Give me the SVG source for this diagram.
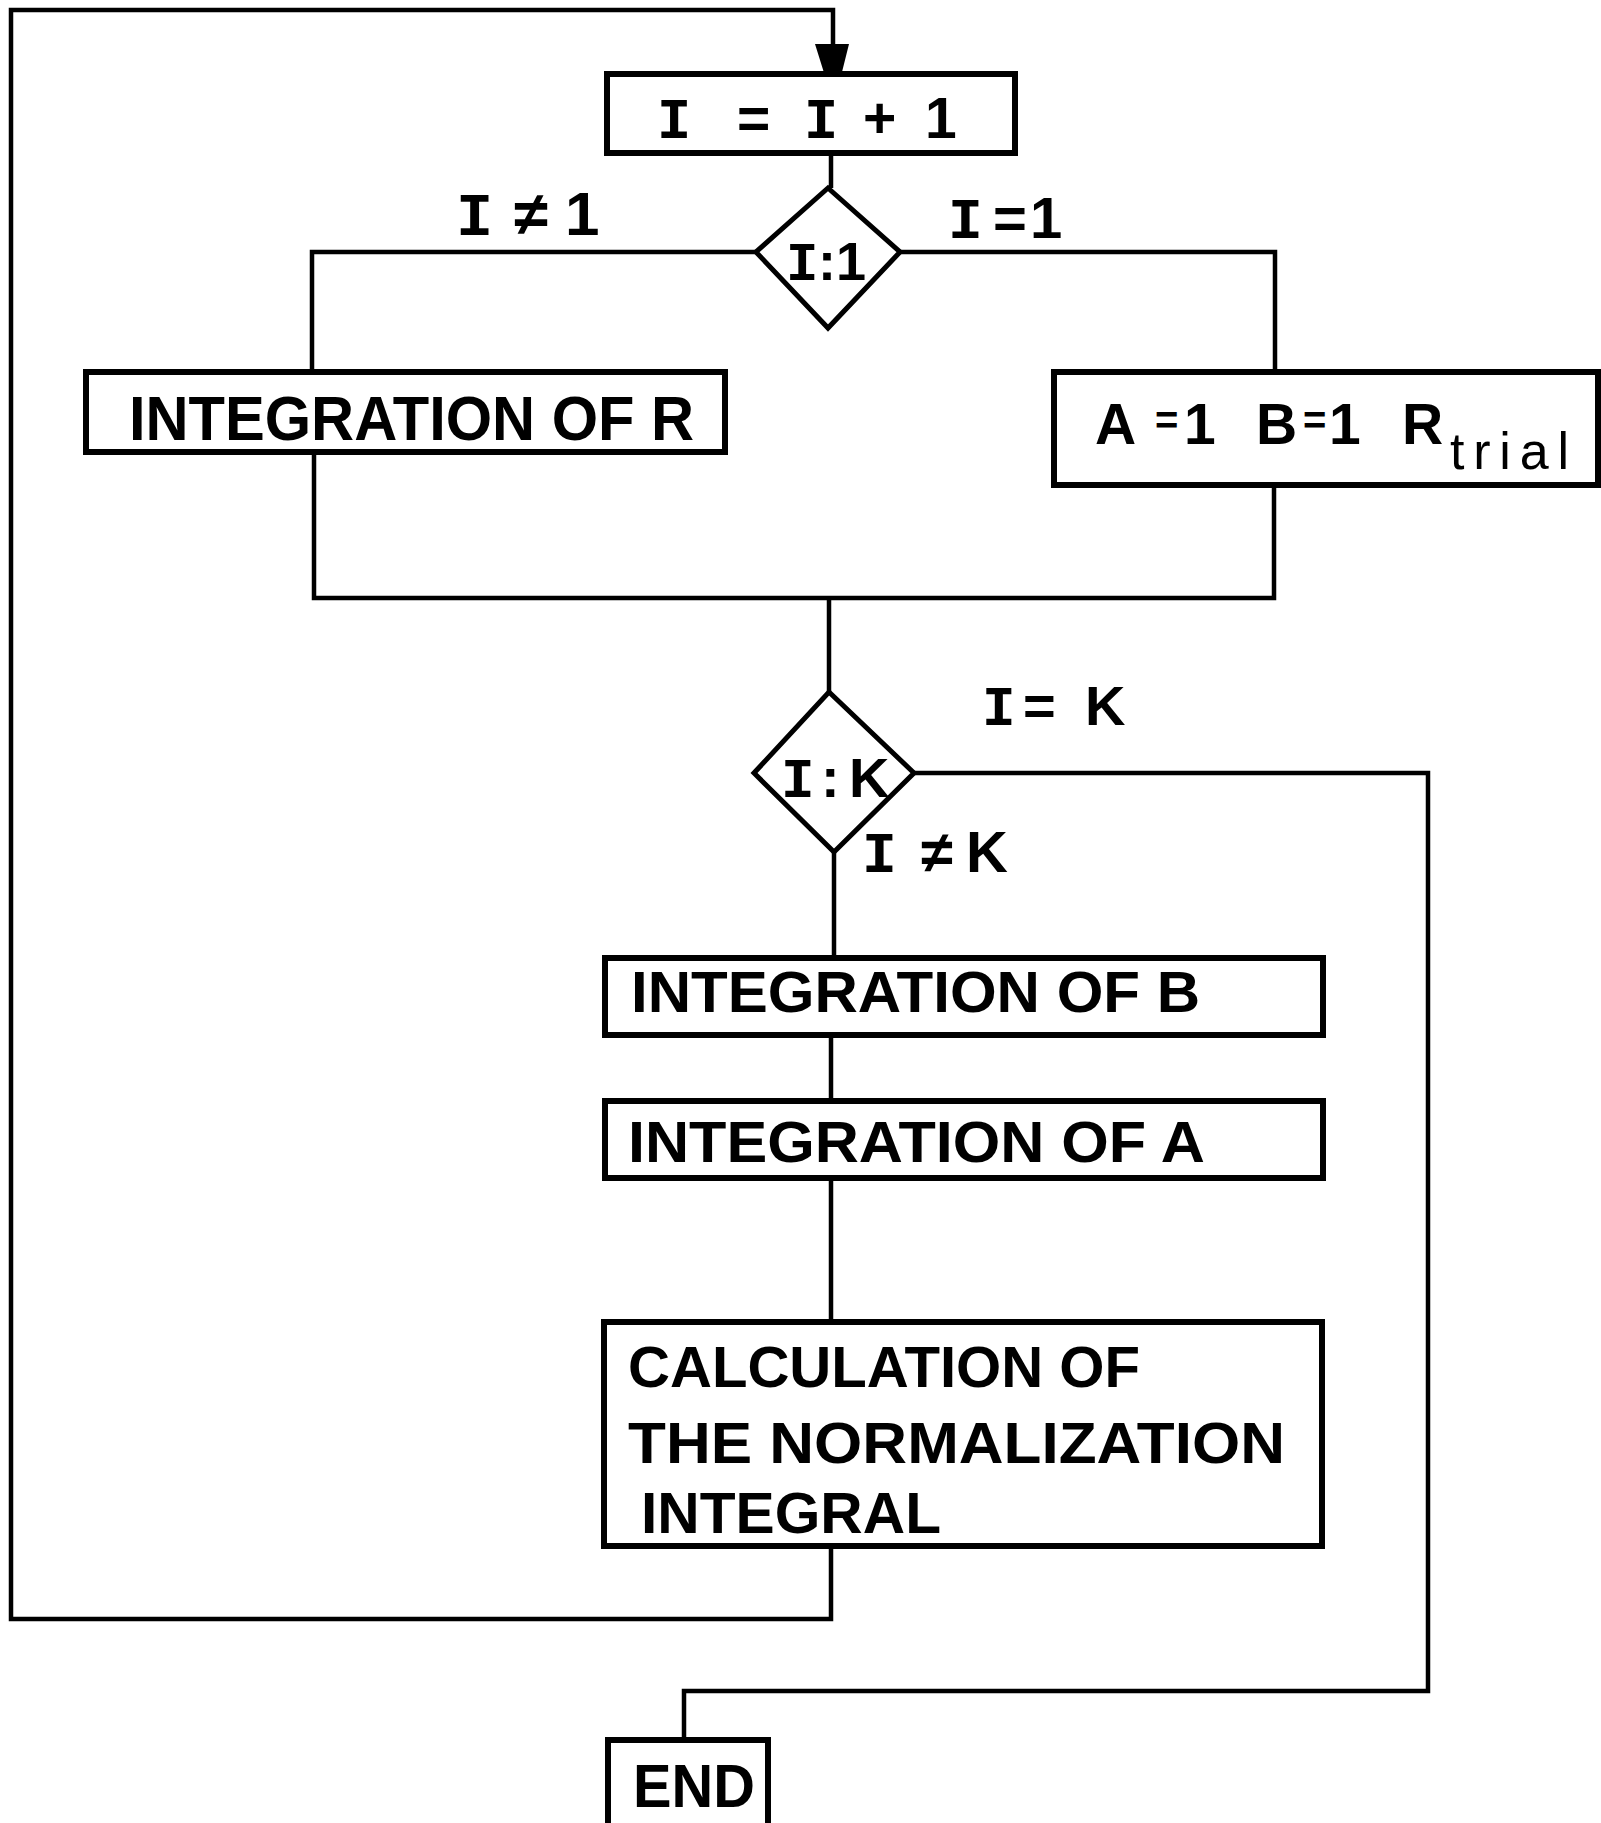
<svg xmlns="http://www.w3.org/2000/svg" width="1601" height="1823" viewBox="0 0 1601 1823">
<style>
.box{fill:none;stroke:#000;stroke-width:6}
.dia{fill:none;stroke:#000;stroke-width:5;stroke-linejoin:miter}
.ln{fill:none;stroke:#000;stroke-width:4.5}
.t{font-family:"Liberation Sans",Arial,sans-serif;font-weight:bold;fill:#000}
.i{font-family:"Liberation Mono","Courier New",monospace;font-weight:bold}
.s{font-family:"Liberation Sans",Arial,sans-serif;font-weight:normal;fill:#000}
</style>
<rect width="1601" height="1823" fill="#fff"/>
<g id="connectors">
<path class="ln" d="M831,1547 V1619 H11 V10 H833 V46"/>
<polygon points="815,44 849,44 841,76 825,76" fill="#000"/>
<path class="ln" d="M831,154 V188"/>
<path class="ln" d="M756,252 H312 V372"/>
<path class="ln" d="M900,252 H1275 V371"/>
<path class="ln" d="M314,453 V598 H1274 V484"/>
<path class="ln" d="M829,598 V692"/>
<path class="ln" d="M914,773 H1428 V1691 H684 V1740"/>
<path class="ln" d="M834,852 V958"/>
<path class="ln" d="M831,1036 V1101"/>
<path class="ln" d="M831,1178 V1322"/>
</g>
<g id="labels">
<text class="t" font-size="62" y="235"><tspan class="i" x="456">I</tspan><tspan x="514">≠</tspan><tspan x="565">1</tspan></text>
<text class="t" font-size="58" y="238"><tspan class="i" x="948">I</tspan><tspan x="993">=</tspan><tspan x="1030">1</tspan></text>
<text class="t" font-size="56" y="725"><tspan class="i" x="982">I</tspan><tspan x="1023">=</tspan><tspan x="1085">K</tspan></text>
<text class="t" font-size="58" y="872"><tspan class="i" x="862">I</tspan><tspan x="921">≠</tspan><tspan x="966">K</tspan></text>
</g>
<g id="n-incr">
<rect class="box" x="607" y="74" width="408" height="79"/>
<text class="t" font-size="57" y="138"><tspan class="i" x="657">I</tspan><tspan x="737">=</tspan><tspan class="i" x="804">I</tspan><tspan x="863">+</tspan><tspan x="925">1</tspan></text>
</g>
<g id="n-test1">
<polygon class="dia" points="828,188 900,252 828,328 756,252"/>
<text class="t" font-size="54" y="280"><tspan class="i" x="786">I</tspan><tspan x="818">:</tspan><tspan x="836">1</tspan></text>
</g>
<g id="n-intR">
<rect class="box" x="86" y="372" width="639" height="80"/>
<text class="t" font-size="63" x="129" y="440" textLength="565" lengthAdjust="spacingAndGlyphs">INTEGRATION OF R</text>
</g>
<g id="n-init">
<rect class="box" x="1054" y="372" width="544" height="113"/>
<text class="t" font-size="57" y="444"><tspan x="1095">A</tspan><tspan x="1155" y="434" font-size="40">=</tspan><tspan x="1184" y="444">1</tspan><tspan x="1256">B</tspan><tspan x="1303" y="434" font-size="40">=</tspan><tspan x="1329" y="444">1</tspan><tspan x="1402">R</tspan></text>
<text class="s" font-size="52" x="1450" y="469" textLength="119" lengthAdjust="spacing">trial</text>
</g>
<g id="n-testK">
<polygon class="dia" points="829,692 914,773 834,852 754,773"/>
<text class="t" font-size="56" y="797"><tspan class="i" x="781">I</tspan><tspan x="821">:</tspan><tspan x="849">K</tspan></text>
</g>
<g id="n-intB">
<rect class="box" x="605" y="958" width="718" height="77"/>
<text class="t" font-size="58" x="631" y="1012" textLength="569" lengthAdjust="spacingAndGlyphs">INTEGRATION OF B</text>
</g>
<g id="n-intA">
<rect class="box" x="605" y="1101" width="718" height="77"/>
<text class="t" font-size="58" x="628" y="1162" textLength="577" lengthAdjust="spacingAndGlyphs">INTEGRATION OF A</text>
</g>
<g id="n-calc">
<rect class="box" x="604" y="1322" width="718" height="224"/>
<text class="t" font-size="58" x="628" y="1387" textLength="512" lengthAdjust="spacingAndGlyphs">CALCULATION OF</text>
<text class="t" font-size="57" x="628" y="1463" textLength="657" lengthAdjust="spacingAndGlyphs">THE NORMALIZATION</text>
<text class="t" font-size="57" x="641" y="1533" textLength="300" lengthAdjust="spacingAndGlyphs">INTEGRAL</text>
</g>
<g id="n-end">
<rect class="box" x="608" y="1740" width="160" height="88"/>
<text class="t" font-size="62" x="633" y="1807" textLength="122" lengthAdjust="spacingAndGlyphs">END</text>
</g>
</svg>
